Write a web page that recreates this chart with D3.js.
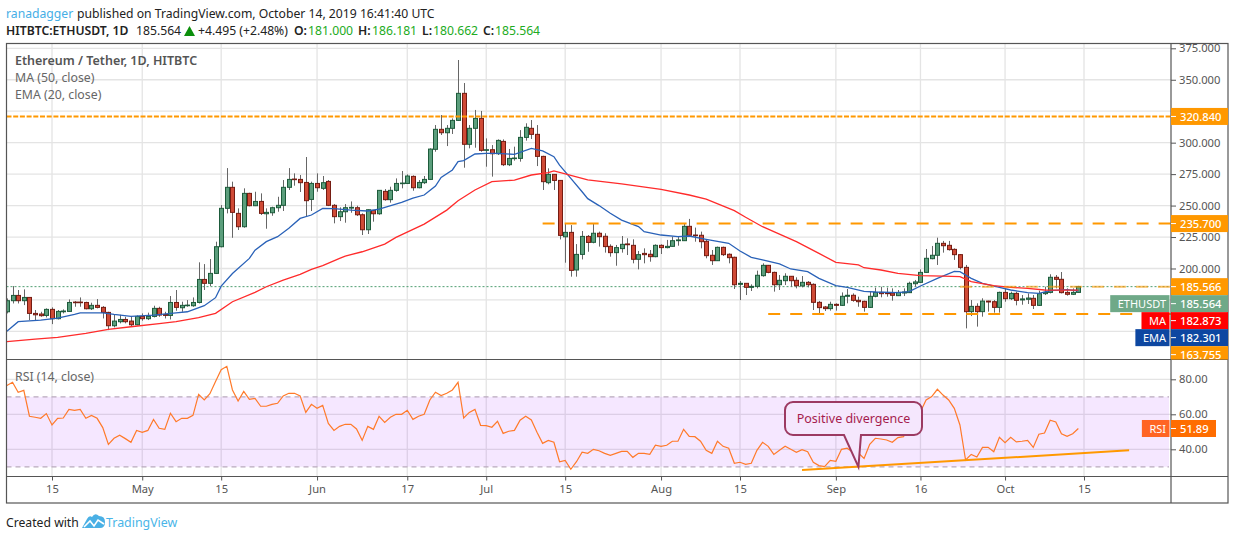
<!DOCTYPE html>
<html>
<head>
<meta charset="utf-8">
<script src="https://cdn.jsdelivr.net/npm/d3@7"></script>
<style>
    body { margin: 0; background: #fff; }
    text { font-family: "Noto Sans", sans-serif; }
</style>
</head>
<body>
<svg class="chart" width="1234" height="540"></svg>
<script>
//Daily candles, first one is 7 Apr 2019, last one is 14 Oct 2019.
const opens = [165.6,174.4,178.6,174.4,177.0,164.3,163.8,162.7,167.5,160.1,
    165.6,165.9,173.3,173.3,173.0,168.0,170.7,169.1,165.1,154.5,
    157.7,159.5,158.2,155.3,161.9,160.1,161.9,168.3,163.5,162.7,
    173.0,168.8,170.4,170.4,173.0,191.3,188.2,196.1,217.3,247.8,
    264.5,243.8,233.2,259.7,249.9,253.3,243.5,244.3,248.3,250.2,
    264.5,271.1,270.8,268.4,254.9,267.6,263.7,269.2,250.2,241.2,
    245.1,248.0,248.3,242.7,230.8,246.2,243.5,261.3,254.7,262.1,
    267.4,267.6,273.2,264.2,268.2,270.8,294.7,310.6,307.9,311.4,
    317.7,339.2,298.7,311.4,319.3,293.9,294.4,291.2,301.0,282.5,
    287.3,287.5,304.2,311.4,306.6,289.1,268.2,274.8,270.0,225.2,
    228.7,198.8,211.2,225.5,220.8,228.0,225.6,217.6,212.6,215.8,
    219.5,218.4,207.3,212.0,211.3,209.4,218.4,216.6,217.6,222.1,
    222.1,233.5,226.6,226.4,221.6,210.5,206.2,216.8,211.3,208.9,
    187.4,188.2,185.0,185.8,194.3,202.5,196.9,187.1,190.3,193.8,
    190.6,186.1,189.0,187.4,173.1,169.4,168.1,171.5,170.7,177.9,
    178.7,174.7,173.9,169.1,177.9,181.0,180.8,180.5,178.4,180.5,
    180.8,187.9,189.0,196.9,207.8,210.5,220.0,218.4,215.2,211.0,
    200.9,165.7,169.9,165.7,174.1,173.6,169.1,181.0,176.0,180.2,
    175.0,175.5,176.3,170.7,180.0,181.0,193.0,191.4,181.0,179.5,181.0];
const highs = [176.2,186.0,182.9,183.4,177.0,167.0,165.6,168.3,169.1,167.0,
    167.5,175.4,174.1,177.0,173.6,172.8,175.7,170.1,165.6,163.2,
    163.2,161.6,161.6,162.7,164.3,164.9,170.4,169.6,165.6,178.1,
    182.9,173.6,174.9,177.0,204.9,203.5,207.5,221.3,250.4,279.8,
    269.0,247.8,263.7,260.2,261.0,259.7,247.8,249.1,257.0,270.3,
    279.8,275.6,274.3,288.6,269.0,275.6,273.5,270.3,251.2,248.6,
    251.2,253.3,249.9,243.8,247.0,246.4,262.3,263.1,265.0,271.6,
    277.5,274.8,274.0,270.3,273.5,295.5,314.0,322.0,314.0,319.3,
    365.7,347.4,314.0,326.0,325.2,303.4,298.1,302.6,302.6,295.0,
    296.8,310.0,315.4,318.0,314.0,289.6,279.6,274.8,270.3,235.9,
    234.5,219.4,229.8,226.6,235.4,229.3,228.0,219.2,218.7,225.8,
    224.0,223.2,213.9,216.0,214.7,219.2,219.2,222.7,225.3,225.3,
    235.4,239.4,232.5,229.3,222.7,214.7,217.4,217.4,212.0,209.4,
    190.0,188.2,187.4,198.3,204.1,202.8,197.5,194.8,196.2,194.0,
    193.0,194.0,190.0,188.2,174.2,170.2,173.6,172.3,181.0,183.7,
    180.2,177.6,174.4,181.6,184.8,185.5,184.8,184.2,182.9,184.2,
    189.5,190.9,199.3,215.5,217.9,224.5,221.9,221.9,216.0,211.5,
    202.8,174.9,172.3,176.3,174.4,174.9,181.6,184.2,181.6,181.6,
    178.9,180.2,178.9,182.4,185.5,195.4,194.8,197.2,184.2,184.2,186.181];
const lows = [164.3,172.2,172.2,170.9,159.0,159.0,161.6,161.1,155.8,159.5,
    164.3,165.6,169.6,169.6,167.5,167.0,168.3,160.3,151.0,153.2,
    156.4,156.4,153.7,154.8,158.5,159.0,161.1,161.6,160.3,159.5,
    166.4,165.6,169.6,169.6,172.2,182.9,186.0,195.6,216.8,243.8,
    224.4,230.6,232.4,249.4,249.6,242.5,231.6,241.9,245.1,245.7,
    262.4,265.8,260.8,241.2,245.7,261.0,262.4,249.6,235.9,237.7,
    236.4,244.3,241.7,226.6,227.4,237.2,242.7,253.9,252.3,261.0,
    263.7,267.1,261.8,263.7,267.1,270.3,292.8,306.1,297.3,306.9,
    317.2,280.1,295.5,296.0,292.8,280.9,273.0,290.2,281.4,281.4,
    285.7,284.9,301.6,302.9,281.4,262.4,266.9,262.4,223.1,204.6,
    193.5,193.5,207.2,213.3,220.0,217.4,212.6,209.4,202.2,212.6,
    210.7,204.1,199.3,204.1,205.4,208.9,211.5,216.0,217.4,218.1,
    221.9,225.8,221.3,216.0,208.1,202.8,206.0,209.9,204.1,183.7,
    174.9,178.9,182.1,184.2,193.5,196.2,181.6,182.9,186.9,185.5,
    184.2,185.0,185.0,167.0,163.8,166.2,166.5,166.5,170.2,172.3,
    173.6,169.6,165.7,168.6,177.1,177.1,177.6,174.4,178.1,178.1,
    180.5,185.5,188.5,196.7,207.3,202.8,212.6,214.2,206.8,199.3,
    152.4,162.2,153.8,161.7,165.7,164.9,164.9,173.6,174.9,170.7,
    171.2,171.8,167.8,170.2,178.9,180.2,184.2,180.2,178.4,178.9,180.662];
const closes = [174.4,178.6,174.4,177.0,164.3,163.2,162.5,167.5,160.1,165.9,
    166.2,173.0,172.8,172.8,168.0,170.7,169.1,165.1,154.5,158.2,
    159.5,157.7,155.3,161.9,160.1,161.9,168.3,163.0,162.7,173.0,
    169.1,170.7,170.9,173.0,191.3,188.2,196.1,217.3,247.8,264.5,
    244.6,233.2,259.7,249.9,253.3,243.8,244.6,248.3,250.2,264.5,
    270.8,270.6,268.2,253.9,267.6,264.2,268.2,250.2,241.2,245.1,
    248.3,248.6,242.7,230.8,246.7,243.5,262.1,254.7,262.1,267.6,
    267.9,273.5,264.2,268.4,270.8,294.9,310.6,307.9,311.4,317.7,
    339.2,298.7,311.4,319.3,293.9,294.4,291.2,301.8,282.5,287.5,
    287.8,304.2,312.2,306.6,289.1,269.0,274.8,270.0,226.3,228.7,
    198.5,211.2,225.5,220.7,228.0,225.3,217.4,212.6,216.6,219.2,
    218.9,207.3,211.0,211.0,209.4,218.4,216.6,217.6,222.1,222.7,
    233.5,226.4,226.1,221.3,210.2,206.2,216.8,211.0,208.6,187.1,
    188.2,185.0,185.8,194.6,202.5,196.9,187.1,190.6,193.8,190.3,
    186.3,189.0,187.1,173.1,168.9,168.1,171.5,170.7,177.9,178.7,
    174.7,173.6,169.1,177.9,181.0,180.0,180.0,178.7,181.0,181.3,
    188.2,189.3,196.9,208.1,210.5,220.0,218.1,215.0,211.0,200.9,
    165.7,169.9,165.7,174.1,173.4,169.1,181.0,176.0,180.2,174.7,
    175.8,176.5,170.7,180.0,181.0,193.0,191.4,180.8,179.5,181.0,185.564];

//RSI, one reading per candle.
const rsiValues = [76.4,78.3,72.6,73.7,58.9,58.3,57.7,60.4,53.9,57.7,
    57.9,62.8,62.3,62.8,57.7,59.4,57.7,52.4,42.8,46.3,
    48.0,46.1,44.0,50.8,49.7,50.8,57.1,52.0,51.4,60.6,
    55.8,57.7,57.7,59.4,71.4,68.2,71.8,78.7,85.5,87.4,
    73.9,67.6,73.1,68.6,69.1,64.6,64.6,65.7,66.3,70.5,
    72.0,72.0,70.5,61.1,65.7,63.4,65.1,54.8,50.8,53.1,
    54.3,54.3,51.6,45.1,53.1,51.4,58.9,55.4,58.3,60.0,
    60.0,62.3,57.1,58.9,60.0,68.2,72.6,70.7,72.0,73.9,
    78.3,57.9,61.1,62.8,53.7,53.5,52.6,56.0,49.1,50.3,
    50.8,56.6,58.9,56.8,49.7,43.4,45.1,44.0,32.9,33.7,
    28.6,32.9,38.3,37.7,40.0,39.2,37.7,36.6,37.7,38.8,
    38.8,35.4,37.7,37.7,37.1,42.3,41.7,42.3,44.6,44.6,
    51.4,47.4,47.2,44.6,39.4,37.7,44.6,41.7,40.6,32.0,
    32.6,31.4,32.0,39.4,44.0,41.7,37.1,39.4,41.7,40.0,
    38.3,39.8,38.6,32.6,30.7,30.1,33.7,33.1,40.0,40.6,
    38.3,37.9,34.8,42.8,46.3,45.9,45.3,44.0,46.7,47.2,
    53.9,55.2,61.5,68.2,70.1,74.3,71.0,68.2,63.4,53.9,
    33.9,37.1,35.6,41.1,41.1,38.6,46.8,43.8,46.8,44.2,
    44.6,45.1,41.1,48.6,49.3,56.6,55.6,48.9,47.4,48.9,51.89];

const emaDays = [0,2,6,9,12,13,17,19,22,26,30,32,35,37,38,40,43,44,46,48,50,52,54,56,58,61,64,66,70,72,74,76,77,79,80,81,83,85,87,90,93,95,97,98,100,102,103,105,107,109,112,113,116,119,121,124,126,128,130,132,134,137,139,142,144,147,149,152,154,158,160,162,165,168,169,171,173,176,178,181,183,185,188,190];
const emaValues = [150.2,157.7,159.0,160.6,163.5,164.8,164.8,163.5,161.9,163.0,164.8,165.6,170.4,176.8,186.0,196.0,208.0,214.6,221.3,225.3,231.9,239.8,242.5,247.8,247.5,246.4,245.7,247.2,252.5,256.0,258.4,265.5,272.4,278.3,284.9,285.7,291.0,291.5,291.5,290.7,295.5,293.4,288.9,282.2,271.6,261.0,255.5,250.0,243.9,238.5,233.3,229.3,226.6,225.3,225.8,223.2,221.6,220.0,213.9,208.9,206.8,203.6,199.6,197.5,192.2,186.4,185.0,181.8,181.3,180.8,181.6,186.1,192.2,197.7,197.5,192.2,188.2,185.0,182.9,180.8,180.2,182.4,183.2,182.301];
const maDays = [0,5,9,14,18,22,27,30,34,37,40,44,46,49,52,54,56,59,60,63,67,69,74,78,80,83,86,90,93,96,97,99,103,109,116,121,124,129,131,134,140,144,147,151,152,155,158,162,166,169,171,175,178,181,184,190];
const maValues = [141.8,143.9,145.2,148.4,151.6,153.7,156.1,157.7,160.9,164.3,173.6,181.0,185.5,190.8,195.3,199.3,202.2,208.0,209.9,213.3,219.4,224.7,235.3,246.4,253.9,262.4,269.0,270.3,274.3,276.1,277.5,275.1,270.4,267.2,262.9,258.4,255.2,246.0,240.7,233.2,221.3,212.0,204.9,202.8,200.6,198.8,196.1,194.3,194.0,193.5,189.5,186.4,185.0,184.2,182.9,182.873];

//Horizontal levels drawn on the chart and the candle they start from.
const levelValues = [320.84, 235.7, 185.566, 163.755];
const levelStarts = [-1, 95, 169, 135];

//Upward trendline under the RSI.
const trendDays = [141, 199];
const trendValues = [28.2, 39.4];

//Axis ticks.
const priceTicks = [375, 350, 300, 275, 250, 225, 200];
const priceGrid = [375, 350, 325, 300, 275, 250, 225, 200, 175, 150];
const rsiTicks = [80, 60, 40];
const dateTicks = [[2019,3,15],[2019,4,1],[2019,4,15],[2019,5,1],[2019,5,17],[2019,6,1],[2019,6,15],[2019,7,1],[2019,7,15],[2019,8,1],[2019,8,16],[2019,9,1],[2019,9,15]];
const dateLabels = ['15','May','15','Jun','17','Jul','15','Aug','15','Sep','16','Oct','15'];

//Price tags on the right, top to bottom.
const tagNames = ['', 'ETHUSDT', 'MA', 'EMA', ''];
const tagValues = [185.566, 185.564, 182.873, 182.301, 163.755];
const tagColors = ['#ff9800', '#6fa988', '#ff0000', '#0d47a1', '#ff9800'];

//Pane edges.
const frame = { left: 6.5, right: 1228, top: 43.5, bottom: 503 };
const paneRight = 1171;
const priceBottom = 359.5;
const rsiBottom = 476.5;

var svg = d3.select('.chart');

//Scales, one step on x is a day.
const firstDay = new Date(Date.UTC(2019, 3, 7));
const dayDate = i => d3.utcDay.offset(firstDay, i);
var x = d3.scaleUtc()
    .domain([new Date(Date.UTC(2019, 3, 15)), new Date(Date.UTC(2019, 9, 15))])
    .range([52, 1084]);
var y = d3.scaleLinear().domain([150, 375]).range([331.4, 48.3]);
var yRsi = d3.scaleLinear().domain([30, 80]).range([466.8, 379.3]);

const dayX = i => x(dayDate(i));
const tickDates = dateTicks.map(d => new Date(Date.UTC(d[0], d[1], d[2])));
const gridColor = '#e4e4e4';

//Clip the panes.
svg.append('clipPath').attr('id', 'priceClip').append('rect')
    .attr('x', frame.left).attr('y', frame.top)
    .attr('width', paneRight - frame.left).attr('height', priceBottom - frame.top);
svg.append('clipPath').attr('id', 'rsiClip').append('rect')
    .attr('x', frame.left).attr('y', priceBottom)
    .attr('width', paneRight - frame.left).attr('height', rsiBottom - priceBottom);
svg.append('clipPath').attr('id', 'tagClip').append('rect')
    .attr('x', 0).attr('y', frame.top)
    .attr('width', 1234).attr('height', priceBottom - frame.top);

//Grid lines.
var grid = svg.append('g');
grid.selectAll('.vgrid')
    .data(tickDates)
    .enter().append('line')
    .attr('x1', d => x(d)).attr('x2', d => x(d))
    .attr('y1', frame.top).attr('y2', rsiBottom)
    .attr('stroke', gridColor).attr('stroke-width', 1.3);
grid.selectAll('.hgrid')
    .data(priceGrid)
    .enter().append('line')
    .attr('x1', frame.left).attr('x2', paneRight)
    .attr('y1', d => y(d)).attr('y2', d => y(d))
    .attr('stroke', gridColor).attr('stroke-width', 1.3);
grid.selectAll('.rgrid')
    .data(rsiTicks)
    .enter().append('line')
    .attr('x1', frame.left).attr('x2', paneRight)
    .attr('y1', d => yRsi(d)).attr('y2', d => yRsi(d))
    .attr('stroke', gridColor).attr('stroke-width', 1.3);

//RSI band.
var rsiPane = svg.append('g').attr('clip-path', 'url(#rsiClip)');
rsiPane.append('rect')
    .attr('x', frame.left).attr('width', paneRight - 2 - frame.left)
    .attr('y', yRsi(70)).attr('height', yRsi(30) - yRsi(70))
    .attr('fill', '#9915ff').attr('opacity', 0.1);
rsiPane.selectAll('.bandline')
    .data([70, 30])
    .enter().append('line')
    .attr('x1', frame.left).attr('x2', paneRight - 2)
    .attr('y1', d => yRsi(d)).attr('y2', d => yRsi(d))
    .attr('stroke', '#b9aabd').attr('stroke-width', 1.2).attr('stroke-dasharray', '5 4');

//Candles.
var pricePane = svg.append('g').attr('clip-path', 'url(#priceClip)');
const candles = d3.range(closes.length);
const up = i => closes[i] >= opens[i];

pricePane.append('line')
    .attr('x1', frame.left).attr('x2', paneRight)
    .attr('y1', y(closes[closes.length - 1])).attr('y2', y(closes[closes.length - 1]))
    .attr('stroke', '#4f9e70').attr('stroke-dasharray', '2 2');

pricePane.selectAll('.wick')
    .data(candles)
    .enter().append('line')
    .attr('x1', i => Math.round(dayX(i)) + 0.5).attr('x2', i => Math.round(dayX(i)) + 0.5)
    .attr('y1', i => y(highs[i])).attr('y2', i => y(lows[i]))
    .attr('stroke', '#666').attr('stroke-width', 1);
pricePane.selectAll('.body')
    .data(candles)
    .enter().append('rect')
    .attr('x', i => Math.round(dayX(i)) - 1.5)
    .attr('width', 4)
    .attr('y', i => y(Math.max(opens[i], closes[i])))
    .attr('height', i => Math.abs(y(opens[i]) - y(closes[i])))
    .attr('fill', i => up(i) ? '#5b9e7c' : '#cf4a36')
    .attr('stroke', i => up(i) ? '#1d5b3b' : '#751c12')
    .attr('stroke-width', 1);

//Moving averages.
var line = d3.line().x(d => dayX(d[0])).y(d => y(d[1]));
pricePane.append('path')
    .attr('d', line(d3.zip(emaDays, emaValues)))
    .attr('fill', 'none').attr('stroke', '#2a62b8').attr('stroke-width', 1.3);
pricePane.append('path')
    .attr('d', line(d3.zip(maDays, maValues)))
    .attr('fill', 'none').attr('stroke', '#ff2b2b').attr('stroke-width', 1.3);

//Orange levels.
pricePane.selectAll('.level')
    .data(levelValues)
    .enter().append('line')
    .attr('x1', (d, i) => levelStarts[i] < 0 ? frame.left : dayX(levelStarts[i]))
    .attr('x2', paneRight)
    .attr('y1', d => y(d)).attr('y2', d => y(d))
    .attr('stroke', '#ff9800').attr('stroke-width', 2)
    .attr('stroke-opacity', (d, i) => i == 2 ? 0.6 : 1)
    .attr('stroke-dasharray', (d, i) => i == 0 ? '5 1.7' : '12 10');

//RSI line and trendline.
rsiPane.append('path')
    .attr('d', d3.line().x((d, i) => dayX(i)).y(d => yRsi(d))(rsiValues))
    .attr('fill', 'none').attr('stroke', '#ff7a2a').attr('stroke-width', 1.2);
rsiPane.append('path')
    .attr('d', d3.line().x(d => dayX(d[0])).y(d => yRsi(d[1]))(d3.zip(trendDays, trendValues)))
    .attr('fill', 'none').attr('stroke', '#ff9800').attr('stroke-width', 2);

//Callout box with its pointer on the RSI low.
const tipX = dayX(151);
const tipY = yRsi(30);
var box = d3.path();
box.moveTo(793, 402);
box.lineTo(914, 402);
box.arcTo(922, 402, 922, 410, 8);
box.lineTo(922, 427);
box.arcTo(922, 435, 914, 435, 8);
box.lineTo(861, 435);
box.lineTo(tipX, tipY);
box.lineTo(844, 435);
box.lineTo(793, 435);
box.arcTo(785, 435, 785, 427, 8);
box.lineTo(785, 410);
box.arcTo(785, 402, 793, 402, 8);
box.closePath();
svg.append('path')
    .attr('d', box.toString())
    .attr('fill', '#f5e7fd').attr('stroke', '#9c3a62').attr('stroke-width', 2);
svg.append('text')
    .attr('x', 853.5).attr('y', 422.5)
    .attr('text-anchor', 'middle')
    .attr('font-size', 12.5).attr('fill', '#a51c4d')
    .text('Positive divergence');

//Frame and pane separators.
svg.append('rect')
    .attr('x', frame.left).attr('y', frame.top)
    .attr('width', frame.right - frame.left).attr('height', frame.bottom - frame.top)
    .attr('fill', 'none').attr('stroke', '#555').attr('stroke-width', 1.2);
[priceBottom, rsiBottom].forEach(d => {
    svg.append('line')
        .attr('x1', frame.left).attr('x2', frame.right)
        .attr('y1', d).attr('y2', d)
        .attr('stroke', '#555').attr('stroke-width', 1.2);
});
svg.append('line')
    .attr('x1', paneRight).attr('x2', paneRight)
    .attr('y1', frame.top).attr('y2', frame.bottom)
    .attr('stroke', '#555').attr('stroke-width', 1.2);

//Axes.
svg.append('g')
    .attr('class', 'axis')
    .attr('transform', 'translate(' + paneRight + ',0)')
    .call(d3.axisRight(y).tickValues(priceTicks).tickSize(5).tickPadding(3).tickFormat(d3.format('.3f')));
svg.append('g')
    .attr('class', 'axis')
    .attr('transform', 'translate(' + paneRight + ',0)')
    .call(d3.axisRight(yRsi).tickValues(rsiTicks).tickSize(5).tickPadding(3).tickFormat(d3.format('.2f')));
svg.append('g')
    .attr('class', 'axis')
    .attr('transform', 'translate(0,' + rsiBottom + ')')
    .call(d3.axisBottom(x).tickValues(tickDates).tickSize(4).tickPadding(5).tickFormat((d, i) => dateLabels[i]));
svg.selectAll('.axis .domain').remove();
svg.selectAll('.axis text').attr('font-size', 11.2).attr('fill', '#555').style('font-family', '"Noto Sans", sans-serif');
svg.selectAll('.axis line').attr('stroke', '#555');

//Price tags.
function drawTag(group, name, value, yPos, color, right, nameColor) {
    group.append('rect')
        .attr('x', paneRight).attr('width', right - paneRight)
        .attr('y', yPos - 8.5).attr('height', 17)
        .attr('fill', color);
    group.append('line')
        .attr('x1', paneRight).attr('x2', paneRight + 5)
        .attr('y1', yPos).attr('y2', yPos)
        .attr('stroke', '#fff');
    group.append('text')
        .attr('x', paneRight + 9).attr('y', yPos + 4.5)
        .attr('font-size', 11.2).attr('font-weight', 500).attr('fill', '#fff')
        .text(value);
    if (name) {
        const back = group.append('rect')
            .attr('y', yPos - 8.5).attr('height', 17)
            .attr('fill', nameColor || color);
        const label = group.append('text')
            .attr('x', paneRight - 5).attr('y', yPos + 4.5)
            .attr('text-anchor', 'end')
            .attr('font-size', 11).attr('fill', '#fff')
            .text(name);
        const w = label.node().getComputedTextLength() + 11;
        back.attr('x', paneRight - 1.5 - w).attr('width', w);
    }
}

var tags = svg.append('g').attr('clip-path', 'url(#tagClip)');
drawTag(tags, '', '320.840', y(320.84), '#ff9800', frame.right);
drawTag(tags, '', '235.700', y(235.7), '#ff9800', frame.right);
//Tags that would overlap are pushed down, as the original axis does.
var tagY = 0;
tagValues.forEach((v, i) => {
    tagY = Math.max(y(v), tagY + 17);
    drawTag(tags, tagNames[i], d3.format('.3f')(v), tagY, tagColors[i], frame.right);
});
drawTag(svg.append('g'), 'RSI', '51.89', yRsi(rsiValues[rsiValues.length - 1]), '#ff6d00', 1216, '#ff6424');

//Pane titles.
svg.append('text').attr('x', 15).attr('y', 65).attr('font-size', 12.5).attr('font-weight', 600).attr('fill', '#555').text('Ethereum / Tether, 1D, HITBTC');
svg.append('text').attr('x', 15).attr('y', 82).attr('font-size', 12.3).attr('fill', '#666').text('MA (50, close)');
svg.append('text').attr('x', 15).attr('y', 99).attr('font-size', 12.3).attr('fill', '#666').text('EMA (20, close)');
svg.append('text').attr('x', 15).attr('y', 381).attr('font-size', 12.3).attr('fill', '#666').text('RSI (14, close)');

//Header lines.
const headerTop = [[6, 'ranadagger', '#45aee6', 400], [77, 'published on TradingView.com, October 14, 2019 16:41:40 UTC', '#222', 400]];
headerTop.forEach(d => {
    svg.append('text').attr('x', d[0]).attr('y', 18).attr('font-size', 12.2).attr('fill', d[2]).attr('font-weight', d[3]).text(d[1]);
});
const green = '#22ab22';
const headerBottom = [
    [6, 'HITBTC:ETHUSDT, 1D', '#222', 600], [136, '185.564', '#222', 400], [198, '+4.495 (+2.48%)', '#222', 400],
    [294, 'O:', '#222', 600], [308, '181.000', green, 400], [358, 'H:', '#222', 600], [372, '186.181', green, 400],
    [422, 'L:', '#222', 600], [433, '180.662', green, 400], [483, 'C:', '#222', 600], [495, '185.564', green, 400]
];
headerBottom.forEach(d => {
    svg.append('text').attr('x', d[0]).attr('y', 35).attr('font-size', 12.2).attr('fill', d[2]).attr('font-weight', d[3]).text(d[1]);
});
svg.append('path').attr('d', 'M184 36L189.5 26L195 36Z').attr('fill', '#0b8f0b');

//Footer.
svg.append('text').attr('x', 6).attr('y', 527).attr('font-size', 12.2).attr('fill', '#222').text('Created with');
svg.append('path')
    .attr('d', 'M82 528L87 519Q89 515 92 517Q95 512 99 516Q105 516 105 522Q105 528 100 528Z')
    .attr('fill', '#4ab0e5');
svg.append('path')
    .attr('d', 'M84 527L90 521L94 526L98 520L104 524')
    .attr('fill', 'none').attr('stroke', '#fff').attr('stroke-width', 1.6);
svg.append('text').attr('x', 106).attr('y', 527).attr('font-size', 12.4).attr('fill', '#4ab5e8').text('TradingView');
</script>
</body>
</html>
